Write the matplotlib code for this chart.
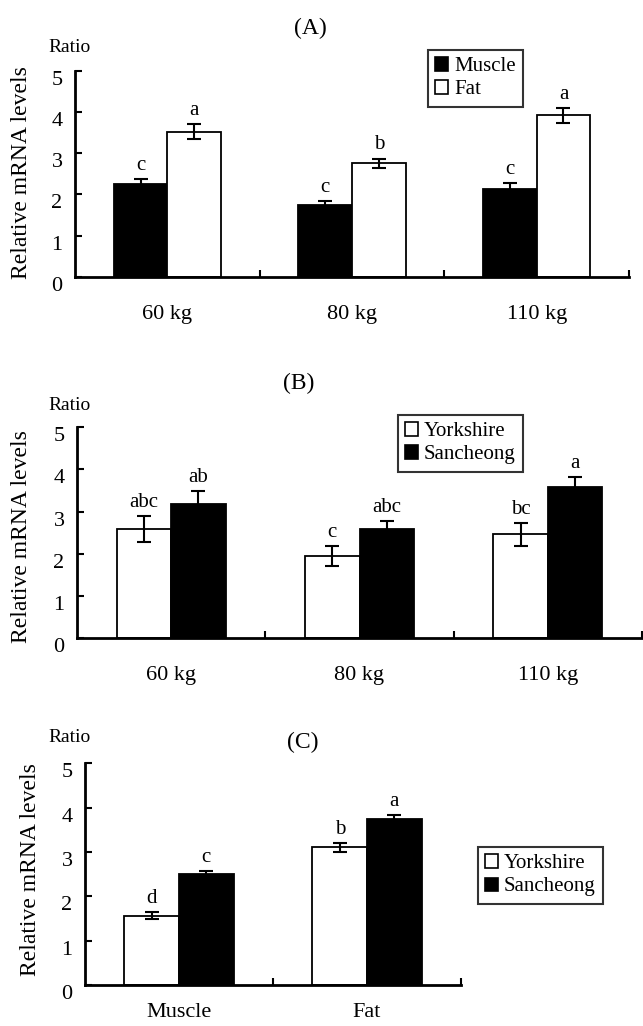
import matplotlib
matplotlib.use("Agg")
import matplotlib.pyplot as plt
import matplotlib.transforms as mtransforms
import numpy as np

plt.rcParams['font.family'] = ['Liberation Serif', 'DejaVu Serif']

# ---- data ----
weights = ["60 kg", "80 kg", "110 kg"]
tissues = ["Muscle", "Fat"]

# (A) tissue comparison per slaughter weight
a_muscle = [2.25, 1.74, 2.14]
a_muscle_err = [0.12, 0.10, 0.13]
a_fat = [3.52, 2.76, 3.92]
a_fat_err = [0.18, 0.11, 0.18]
a_muscle_letters = ["c", "c", "c"]
a_fat_letters = ["a", "b", "a"]

# (B) breed comparison per slaughter weight
b_york = [2.58, 1.94, 2.46]
b_york_err = [0.31, 0.24, 0.27]
b_sanch = [3.19, 2.59, 3.59]
b_sanch_err = [0.30, 0.18, 0.22]
b_york_letters = ["abc", "c", "bc"]
b_sanch_letters = ["ab", "abc", "a"]

# (C) breed comparison per tissue
c_york = [1.56, 3.11]
c_york_err = [0.08, 0.10]
c_sanch = [2.50, 3.74]
c_sanch_err = [0.06, 0.09]
c_york_letters = ["d", "b"]
c_sanch_letters = ["c", "a"]

W, H = 643, 1026
fig = plt.figure(figsize=(W / 100, H / 100), dpi=100)


def px_axes(left, right, top, bottom):
    return fig.add_axes([left / W, 1 - bottom / H, (right - left) / W, (bottom - top) / H])


def px_text(x, y, s, **kw):
    fig.text(x / W, 1 - y / H, s, **kw)


def draw_panel(ax, labels, first, first_err, second, second_err,
               first_color, second_color, first_let, second_let, xpad):
    n = len(labels)
    x = np.arange(n)
    w = 0.29
    for xs, vals, errs, col, lets in [(x - w / 2, first, first_err, first_color, first_let),
                                      (x + w / 2, second, second_err, second_color, second_let)]:
        ax.bar(xs, vals, w, color=col, edgecolor='black', linewidth=1.3, zorder=2)
        ax.errorbar(xs, vals, yerr=errs, fmt='none', ecolor='black',
                    elinewidth=1.5, capsize=5, capthick=1.5, zorder=3)
        for xi, v, e, t in zip(xs, vals, errs, lets):
            ax.annotate(t, (xi, v + e), xytext=(0, 3), textcoords='offset points',
                        ha='center', va='bottom', fontsize=15)
    ax.set_xlim(-0.5, n - 0.5)
    ax.set_ylim(0, 5)
    ax.set_yticks(range(6))
    ax.set_xticks(x)
    ax.set_xticklabels(labels, fontsize=16)
    ax.set_xticks(np.arange(n) + 0.5, minor=True)
    ax.tick_params(axis='x', which='major', length=0, pad=xpad)
    ax.tick_params(axis='x', which='minor', direction='in', length=5, width=1.5)
    ax.tick_params(axis='y', direction='in', length=5, width=1.5, labelsize=16, pad=9)
    # the original's y labels sit a little below their ticks
    for lab in ax.get_yticklabels():
        lab.set_transform(lab.get_transform() +
                          mtransforms.ScaledTranslation(0, -5 / 72, fig.dpi_scale_trans))
    for s in ['top', 'right']:
        ax.spines[s].set_visible(False)
    for s in ['left', 'bottom']:
        ax.spines[s].set_linewidth(2)


def add_legend(ax, names, colors, x0, y0):
    handles = [plt.Rectangle((0, 0), 1, 1, facecolor=c, edgecolor='black', linewidth=1.2)
               for c in colors]
    leg = fig.legend(handles, names, loc='upper left', bbox_to_anchor=(x0 / W, 1 - y0 / H),
                     fontsize=15, frameon=True, fancybox=False, handlelength=0.6,
                     handleheight=0.6, handletextpad=0.3, borderpad=0.35,
                     labelspacing=0.2, borderaxespad=0)
    leg.get_frame().set_edgecolor('black')
    leg.get_frame().set_linewidth(1.5)


# ---- (A) ----
axA = px_axes(75, 629, 70.7, 277)
draw_panel(axA, weights, a_muscle, a_muscle_err, a_fat, a_fat_err,
           'black', 'white', a_muscle_letters, a_fat_letters, 20)
add_legend(axA, ["Muscle", "Fat"], ['black', 'white'], 428, 50)
px_text(310, 28, "(A)", fontsize=17, ha='center', va='center')
px_text(70, 48, "Ratio", fontsize=14, ha='center', va='center')
px_text(22, 173, "Relative mRNA levels", fontsize=17, rotation=90, ha='center', va='center')

# ---- (B) ----
axB = px_axes(77, 642, 427.3, 638)
draw_panel(axB, weights, b_york, b_york_err, b_sanch, b_sanch_err,
           'white', 'black', b_york_letters, b_sanch_letters, 20)
add_legend(axB, ["Yorkshire", "Sancheong"], ['white', 'black'], 398, 415)
px_text(299, 383, "(B)", fontsize=17, ha='center', va='center')
px_text(70, 405, "Ratio", fontsize=14, ha='center', va='center')
px_text(22, 537, "Relative mRNA levels", fontsize=17, rotation=90, ha='center', va='center')

# ---- (C) ----
axC = px_axes(85, 461, 763.3, 985)
draw_panel(axC, tissues, c_york, c_york_err, c_sanch, c_sanch_err,
           'white', 'black', c_york_letters, c_sanch_letters, 13)
add_legend(axC, ["Yorkshire", "Sancheong"], ['white', 'black'], 478, 847)
px_text(303, 742, "(C)", fontsize=17, ha='center', va='center')
px_text(70, 738, "Ratio", fontsize=14, ha='center', va='center')
px_text(31, 870, "Relative mRNA levels", fontsize=17, rotation=90, ha='center', va='center')

fig.savefig("out.png", dpi=100)
